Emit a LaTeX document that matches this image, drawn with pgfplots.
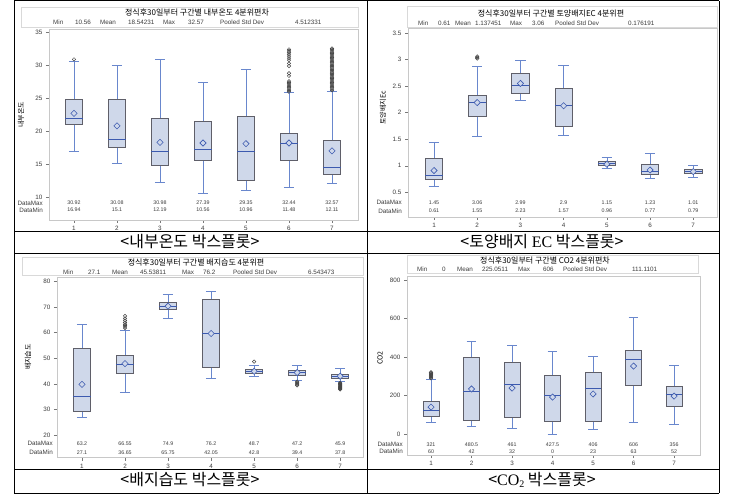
\documentclass[border=0pt]{standalone}
\usepackage{pgfplots}
\pgfplotsset{compat=1.18}
\usepackage{fontspec}
\setmainfont{Liberation Sans}
\newfontfamily\kr{Noto Sans CJK KR}
\newfontfamily\serif{Liberation Serif}

\definecolor{boxfill}{RGB}{207,216,234}
\definecolor{boxedge}{RGB}{95,95,105}
\definecolor{medc}{RGB}{60,90,175}
\definecolor{whc}{RGB}{105,135,205}
\definecolor{framec}{RGB}{200,200,200}
\definecolor{tickc}{RGB}{120,120,120}
\definecolor{txtc}{RGB}{60,60,60}
\definecolor{outc}{RGB}{70,70,70}

\pgfplotsset{
  sasaxis/.style={scale only axis, clip=false, anchor=south west,
    axis line style={draw=framec, line width=0.6pt},
    tick style={draw=tickc, line width=0.5pt}, major tick length=3pt,
    tick align=outside, tick pos=left, xtick={1,...,7},
    tick label style={font=\fontsize{6.3}{7}\selectfont, text=txtc},
    /pgf/number format/assume math mode=true},
  sasmean/.style={only marks, mark=square*, mark size=2.2pt,
    mark options={rotate=45, draw=medc, fill=boxfill, line width=0.6pt}},
  mwhisk/.style={draw=whc, line width=0.6pt, mark=none, unbounded coords=jump},
  mboxr/.style={draw=boxedge, fill=boxfill, line width=0.7pt, mark=none},
  mmed/.style={draw=medc, line width=0.7pt, mark=none, unbounded coords=jump},
  mout/.style={only marks, mark=o, mark size=1.7pt, mark options={draw=outc, line width=0.5pt}}
}
\tikzset{dmv/.style={font=\fontsize{5.3}{6}\selectfont, text=txtc, inner sep=0pt},
  dml/.style={font=\fontsize{6.3}{7}\selectfont, text=txtc, inner sep=0pt, anchor=east},
  sttxt/.style={font=\fontsize{6.3}{7}\selectfont, text=txtc, inner sep=0pt, anchor=west},
  ttltxt/.style={font=\kr\fontsize{8}{9}\selectfont, inner sep=0pt},
  yltxt/.style={font=\kr\fontsize{7}{8}\selectfont, inner sep=0pt, rotate=90},
  captxt/.style={font=\kr\fontsize{16}{17}\selectfont, inner sep=0pt}}
\newcommand{\dm}[5]{\node[dmv] at (axis cs:#1,#2) {#4}; \node[dmv] at (axis cs:#1,#3) {#5};}

\begin{document}
\begin{tikzpicture}
\path[use as bounding box] (0,0) rectangle (750pt,496pt);
\fill[white] (0,0) rectangle (750pt,496pt);

% ---------- header boxes ----------
\draw[gray!30, line width=0.5pt] (21pt,489pt) rectangle (358pt,469pt);
\draw[gray!30, line width=0.5pt] (407pt,490pt) rectangle (717pt,469pt);
\draw[gray!30, line width=0.5pt] (22pt,239pt) rectangle (363pt,221pt);
\draw[gray!30, line width=0.5pt] (407pt,241pt) rectangle (698pt,223pt);

% ---------- titles ----------
\node[ttltxt] at (197pt,483.5pt) {정식후30일부터 구간별 내부온도 4분위편차};
\node[ttltxt] at (551pt,483pt) {정식후30일부터 구간별 토양배지EC 4분위편};
\node[ttltxt] at (196pt,234pt) {정식후30일부터 구간별 배지습도 4분위편};
\node[ttltxt] at (545pt,236pt) {정식후30일부터 구간별 CO2 4분위편차};

% ---------- stats lines ----------
\node[sttxt] at (53pt,474pt) {Min}; \node[sttxt] at (75pt,474pt) {10.56};
\node[sttxt] at (100pt,474pt) {Mean}; \node[sttxt] at (128pt,474pt) {18.54231};
\node[sttxt] at (163pt,474pt) {Max}; \node[sttxt] at (188pt,474pt) {32.57};
\node[sttxt] at (220pt,474pt) {Pooled Std Dev}; \node[sttxt] at (295pt,474pt) {4.512331};

\node[sttxt] at (418pt,473pt) {Min}; \node[sttxt] at (438pt,473pt) {0.61};
\node[sttxt] at (455pt,473pt) {Mean}; \node[sttxt] at (475pt,473pt) {1.137451};
\node[sttxt] at (510pt,473pt) {Max}; \node[sttxt] at (532pt,473pt) {3.06};
\node[sttxt] at (555pt,473pt) {Pooled Std Dev}; \node[sttxt] at (628pt,473pt) {0.176191};

\node[sttxt] at (63pt,224pt) {Min}; \node[sttxt] at (88pt,224pt) {27.1};
\node[sttxt] at (112pt,224pt) {Mean}; \node[sttxt] at (140pt,224pt) {45.53811};
\node[sttxt] at (182pt,224pt) {Max}; \node[sttxt] at (203pt,224pt) {76.2};
\node[sttxt] at (233pt,224pt) {Pooled Std Dev}; \node[sttxt] at (308pt,224pt) {6.543473};

\node[sttxt] at (417pt,226.5pt) {Min}; \node[sttxt] at (442pt,226.5pt) {0};
\node[sttxt] at (457pt,226.5pt) {Mean}; \node[sttxt] at (482pt,226.5pt) {225.0511};
\node[sttxt] at (518pt,226.5pt) {Max}; \node[sttxt] at (543pt,226.5pt) {606};
\node[sttxt] at (563pt,226.5pt) {Pooled Std Dev}; \node[sttxt] at (632pt,226.5pt) {111.1101};

% ---------- y labels ----------
\node[yltxt] at (21pt,381pt) {내부온도};
\node[yltxt] at (383pt,388pt) {토양배지Ec};
\node[yltxt] at (28pt,139pt) {배지습도};
\node[yltxt] at (380pt,138pt) {CO2};

% ================= top-left: 내부온도 =================
\begin{axis}[sasaxis, at={(49pt,276pt)}, width=309pt, height=191pt,
  xmin=0.419, xmax=7.605, ymin=6.5, ymax=35.53, ytick={10,15,...,35}]
\addplot[mwhisk] coordinates {
 (1,16.94) (1,21.0) (1,nan) (1,24.9) (1,30.66) (1,nan) (0.88,16.94) (1.12,16.94) (1,nan) (0.88,30.66) (1.12,30.66) (1,nan)
 (2,15.1) (2,17.55) (2,nan) (2,24.9) (2,30.08) (2,nan) (1.88,15.1) (2.12,15.1) (2,nan) (1.88,30.08) (2.12,30.08) (2,nan)
 (3,12.19) (3,14.8) (3,nan) (3,22.0) (3,30.98) (3,nan) (2.88,12.19) (3.12,12.19) (3,nan) (2.88,30.98) (3.12,30.98) (3,nan)
 (4,10.56) (4,15.5) (4,nan) (4,21.5) (4,27.39) (4,nan) (3.88,10.56) (4.12,10.56) (4,nan) (3.88,27.39) (4.12,27.39) (4,nan)
 (5,10.96) (5,12.5) (5,nan) (5,22.2) (5,29.35) (5,nan) (4.88,10.96) (5.12,10.96) (5,nan) (4.88,29.35) (5.12,29.35) (5,nan)
 (6,11.48) (6,15.5) (6,nan) (6,19.7) (6,25.85) (6,nan) (5.88,11.48) (6.12,11.48) (6,nan) (5.88,25.85) (6.12,25.85) (6,nan)
 (7,12.11) (7,13.5) (7,nan) (7,18.6) (7,26.0) (7,nan) (6.88,12.11) (7.12,12.11) (7,nan) (6.88,26.0) (7.12,26.0)
};
\addplot[mboxr] coordinates {(0.8,21.0) (1.2,21.0) (1.2,24.9) (0.8,24.9)} --cycle;
\addplot[mboxr] coordinates {(1.8,17.55) (2.2,17.55) (2.2,24.9) (1.8,24.9)} --cycle;
\addplot[mboxr] coordinates {(2.8,14.8) (3.2,14.8) (3.2,22.0) (2.8,22.0)} --cycle;
\addplot[mboxr] coordinates {(3.8,15.5) (4.2,15.5) (4.2,21.5) (3.8,21.5)} --cycle;
\addplot[mboxr] coordinates {(4.8,12.5) (5.2,12.5) (5.2,22.2) (4.8,22.2)} --cycle;
\addplot[mboxr] coordinates {(5.8,15.5) (6.2,15.5) (6.2,19.7) (5.8,19.7)} --cycle;
\addplot[mboxr] coordinates {(6.8,13.5) (7.2,13.5) (7.2,18.6) (6.8,18.6)} --cycle;
\addplot[mmed] coordinates {
 (0.8,22.0) (1.2,22.0) (1,nan) (1.8,18.7) (2.2,18.7) (2,nan) (2.8,17.0) (3.2,17.0) (3,nan)
 (3.8,17.2) (4.2,17.2) (4,nan) (4.8,17.0) (5.2,17.0) (5,nan) (5.8,18.1) (6.2,18.1) (6,nan) (6.8,14.5) (7.2,14.5)
};
\addplot[mout] coordinates {(1,30.92)
 (6,26.0) (6,26.2) (6,26.4) (6,26.6) (6,26.8) (6,27.0) (6,27.2) (6,27.4) (6,27.6) (6,28.4) (6,28.8) (6,29.9) (6,30.3) (6,30.8) (6,31.1) (6,31.4) (6,31.7) (6,32.0) (6,32.2) (6,32.44)
 (7,26.2) (7,26.4) (7,26.6) (7,26.8) (7,27.0) (7,27.2) (7,27.4) (7,27.6) (7,27.8) (7,28.0) (7,28.2) (7,28.4) (7,28.6) (7,28.8) (7,29.0) (7,29.2) (7,29.4) (7,29.6) (7,29.8) (7,30.0) (7,30.2) (7,30.4) (7,30.6) (7,30.8) (7,31.0) (7,31.2) (7,31.4) (7,31.6) (7,31.8) (7,32.0) (7,32.2) (7,32.4) (7,32.57)};
\addplot[sasmean] coordinates {(1,22.7) (2,20.8) (3,18.3) (4,18.2) (5,18.1) (6,18.2) (7,17.0)};
\node[dml] at (axis cs:0.419,9.09) [xshift=-6pt] {DataMax};
\node[dml] at (axis cs:0.419,8.02) [xshift=-6pt] {DataMin};
\dm{1}{9.09}{8.02}{30.92}{16.94}
\dm{2}{9.09}{8.02}{30.08}{15.1}
\dm{3}{9.09}{8.02}{30.98}{12.19}
\dm{4}{9.09}{8.02}{27.39}{10.56}
\dm{5}{9.09}{8.02}{29.35}{10.96}
\dm{6}{9.09}{8.02}{32.44}{11.48}
\dm{7}{9.09}{8.02}{32.57}{12.11}
\end{axis}

% ================= top-right: 토양배지 EC =================
\begin{axis}[sasaxis, at={(408pt,279pt)}, width=309pt, height=189pt,
  xmin=0.398, xmax=7.55, ymin=0.035, ymax=3.594, ytick={0.5,1,...,3.5}]
\addplot[mwhisk] coordinates {
 (1,0.61) (1,0.74) (1,nan) (1,1.14) (1,1.45) (1,nan) (0.88,0.61) (1.12,0.61) (1,nan) (0.88,1.45) (1.12,1.45) (1,nan)
 (2,1.55) (2,1.93) (2,nan) (2,2.33) (2,2.88) (2,nan) (1.88,1.55) (2.12,1.55) (2,nan) (1.88,2.88) (2.12,2.88) (2,nan)
 (3,2.23) (3,2.36) (3,nan) (3,2.74) (3,2.99) (3,nan) (2.88,2.23) (3.12,2.23) (3,nan) (2.88,2.99) (3.12,2.99) (3,nan)
 (4,1.57) (4,1.75) (4,nan) (4,2.46) (4,2.9) (4,nan) (3.88,1.57) (4.12,1.57) (4,nan) (3.88,2.9) (4.12,2.9) (4,nan)
 (5,0.96) (5,1.0) (5,nan) (5,1.075) (5,1.15) (5,nan) (4.88,0.96) (5.12,0.96) (5,nan) (4.88,1.15) (5.12,1.15) (5,nan)
 (6,0.77) (6,0.84) (6,nan) (6,1.02) (6,1.23) (6,nan) (5.88,0.77) (6.12,0.77) (6,nan) (5.88,1.23) (6.12,1.23) (6,nan)
 (7,0.79) (7,0.86) (7,nan) (7,0.925) (7,1.01) (7,nan) (6.88,0.79) (7.12,0.79) (7,nan) (6.88,1.01) (7.12,1.01)
};
\addplot[mboxr] coordinates {(0.8,0.74) (1.2,0.74) (1.2,1.14) (0.8,1.14)} --cycle;
\addplot[mboxr] coordinates {(1.8,1.93) (2.2,1.93) (2.2,2.33) (1.8,2.33)} --cycle;
\addplot[mboxr] coordinates {(2.8,2.36) (3.2,2.36) (3.2,2.74) (2.8,2.74)} --cycle;
\addplot[mboxr] coordinates {(3.8,1.75) (4.2,1.75) (4.2,2.46) (3.8,2.46)} --cycle;
\addplot[mboxr] coordinates {(4.8,1.0) (5.2,1.0) (5.2,1.075) (4.8,1.075)} --cycle;
\addplot[mboxr] coordinates {(5.8,0.84) (6.2,0.84) (6.2,1.02) (5.8,1.02)} --cycle;
\addplot[mboxr] coordinates {(6.8,0.86) (7.2,0.86) (7.2,0.925) (6.8,0.925)} --cycle;
\addplot[mmed] coordinates {
 (0.8,0.82) (1.2,0.82) (1,nan) (1.8,2.19) (2.2,2.19) (2,nan) (2.8,2.51) (3.2,2.51) (3,nan)
 (3.8,2.13) (4.2,2.13) (4,nan) (4.8,1.04) (5.2,1.04) (5,nan) (5.8,0.89) (6.2,0.89) (6,nan) (6.8,0.89) (7.2,0.89)
};
\addplot[mout] coordinates {(2,3.02) (2,3.04) (2,3.06)};
\addplot[sasmean] coordinates {(1,0.91) (2,2.19) (3,2.55) (4,2.13) (5,1.03) (6,0.92) (7,0.89)};
\node[dml] at (axis cs:0.398,0.302) [xshift=-6pt] {DataMax};
\node[dml] at (axis cs:0.398,0.146) [xshift=-6pt] {DataMin};
\dm{1}{0.302}{0.146}{1.45}{0.61}
\dm{2}{0.302}{0.146}{3.06}{1.55}
\dm{3}{0.302}{0.146}{2.99}{2.23}
\dm{4}{0.302}{0.146}{2.9}{1.57}
\dm{5}{0.302}{0.146}{1.15}{0.96}
\dm{6}{0.302}{0.146}{1.23}{0.77}
\dm{7}{0.302}{0.146}{1.01}{0.79}
\end{axis}

% ================= bottom-left: 배지습도 =================
\begin{axis}[sasaxis, at={(57pt,38.3pt)}, width=306pt, height=180.7pt,
  xmin=0.419, xmax=7.53, ymin=11.1, ymax=81.8, ytick={20,30,...,80}]
\addplot[mwhisk] coordinates {
 (1,27.1) (1,29.1) (1,nan) (1,53.8) (1,63.2) (1,nan) (0.88,27.1) (1.12,27.1) (1,nan) (0.88,63.2) (1.12,63.2) (1,nan)
 (2,36.65) (2,44.2) (2,nan) (2,51.0) (2,61.0) (2,nan) (1.88,36.65) (2.12,36.65) (2,nan) (1.88,61.0) (2.12,61.0) (2,nan)
 (3,65.75) (3,69.1) (3,nan) (3,71.8) (3,74.9) (3,nan) (2.88,65.75) (3.12,65.75) (3,nan) (2.88,74.9) (3.12,74.9) (3,nan)
 (4,42.05) (4,46.6) (4,nan) (4,73.2) (4,76.2) (4,nan) (3.88,42.05) (4.12,42.05) (4,nan) (3.88,76.2) (4.12,76.2) (4,nan)
 (5,42.8) (5,44.1) (5,nan) (5,45.7) (5,47.4) (5,nan) (4.88,42.8) (5.12,42.8) (5,nan) (4.88,47.4) (5.12,47.4) (5,nan)
 (6,41.5) (6,43.5) (6,nan) (6,45.2) (6,47.2) (6,nan) (5.88,41.5) (6.12,41.5) (6,nan) (5.88,47.2) (6.12,47.2) (6,nan)
 (7,40.9) (7,42.0) (7,nan) (7,43.8) (7,45.9) (7,nan) (6.88,40.9) (7.12,40.9) (7,nan) (6.88,45.9) (7.12,45.9)
};
\addplot[mboxr] coordinates {(0.8,29.1) (1.2,29.1) (1.2,53.8) (0.8,53.8)} --cycle;
\addplot[mboxr] coordinates {(1.8,44.2) (2.2,44.2) (2.2,51.0) (1.8,51.0)} --cycle;
\addplot[mboxr] coordinates {(2.8,69.1) (3.2,69.1) (3.2,71.8) (2.8,71.8)} --cycle;
\addplot[mboxr] coordinates {(3.8,46.6) (4.2,46.6) (4.2,73.2) (3.8,73.2)} --cycle;
\addplot[mboxr] coordinates {(4.8,44.1) (5.2,44.1) (5.2,45.7) (4.8,45.7)} --cycle;
\addplot[mboxr] coordinates {(5.8,43.5) (6.2,43.5) (6.2,45.2) (5.8,45.2)} --cycle;
\addplot[mboxr] coordinates {(6.8,42.0) (7.2,42.0) (7.2,43.8) (6.8,43.8)} --cycle;
\addplot[mmed] coordinates {
 (0.8,35.1) (1.2,35.1) (1,nan) (1.8,47.7) (2.2,47.7) (2,nan) (2.8,70.5) (3.2,70.5) (3,nan)
 (3.8,59.7) (4.2,59.7) (4,nan) (4.8,44.9) (5.2,44.9) (5,nan) (5.8,44.4) (6.2,44.4) (6,nan) (6.8,43.0) (7.2,43.0)
};
\addplot[mout] coordinates {(2,61.8) (2,62.3) (2,62.8) (2,63.3) (2,64.0) (2,64.8) (2,65.6) (2,66.55)
 (5,48.7)
 (6,40.9) (6,40.5) (6,40.1) (6,39.7) (6,39.4)
 (7,40.4) (7,40.2) (7,40.0) (7,39.8) (7,39.6) (7,39.4) (7,39.2) (7,39.0) (7,38.8) (7,38.6) (7,38.4) (7,38.2) (7,38.0) (7,37.8)};
\addplot[sasmean] coordinates {(1,39.8) (2,47.9) (3,70.4) (4,59.7) (5,44.9) (6,44.4) (7,43.0)};
\node[dml] at (axis cs:0.419,16.75) [xshift=-4pt] {DataMax};
\node[dml] at (axis cs:0.419,13.1) [xshift=-4pt] {DataMin};
\dm{1}{16.75}{13.1}{63.2}{27.1}
\dm{2}{16.75}{13.1}{66.55}{36.65}
\dm{3}{16.75}{13.1}{74.9}{65.75}
\dm{4}{16.75}{13.1}{76.2}{42.05}
\dm{5}{16.75}{13.1}{48.7}{42.8}
\dm{6}{16.75}{13.1}{47.2}{39.4}
\dm{7}{16.75}{13.1}{45.9}{37.8}
\end{axis}

% ================= bottom-right: CO2 =================
\begin{axis}[sasaxis, at={(407pt,41pt)}, width=293pt, height=179pt,
  xmin=0.407, xmax=7.64, ymin=-109, ymax=821, ytick={0,200,...,800}]
\addplot[mwhisk] coordinates {
 (1,60) (1,90) (1,nan) (1,168) (1,285) (1,nan) (0.88,60) (1.12,60) (1,nan) (0.88,285) (1.12,285) (1,nan)
 (2,42) (2,73) (2,nan) (2,398) (2,480.5) (2,nan) (1.88,42) (2.12,42) (2,nan) (1.88,480.5) (2.12,480.5) (2,nan)
 (3,32) (3,85) (3,nan) (3,370) (3,461) (3,nan) (2.88,32) (3.12,32) (3,nan) (2.88,461) (3.12,461) (3,nan)
 (4,0) (4,64) (4,nan) (4,303) (4,427.5) (4,nan) (3.88,0) (4.12,0) (4,nan) (3.88,427.5) (4.12,427.5) (4,nan)
 (5,23) (5,66) (5,nan) (5,318) (5,406) (5,nan) (4.88,23) (5.12,23) (5,nan) (4.88,406) (5.12,406) (5,nan)
 (6,63) (6,253) (6,nan) (6,433) (6,606) (6,nan) (5.88,63) (6.12,63) (6,nan) (5.88,606) (6.12,606) (6,nan)
 (7,52) (7,145) (7,nan) (7,246) (7,356) (7,nan) (6.88,52) (7.12,52) (7,nan) (6.88,356) (7.12,356)
};
\addplot[mboxr] coordinates {(0.8,90) (1.2,90) (1.2,168) (0.8,168)} --cycle;
\addplot[mboxr] coordinates {(1.8,73) (2.2,73) (2.2,398) (1.8,398)} --cycle;
\addplot[mboxr] coordinates {(2.8,85) (3.2,85) (3.2,370) (2.8,370)} --cycle;
\addplot[mboxr] coordinates {(3.8,64) (4.2,64) (4.2,303) (3.8,303)} --cycle;
\addplot[mboxr] coordinates {(4.8,66) (5.2,66) (5.2,318) (4.8,318)} --cycle;
\addplot[mboxr] coordinates {(5.8,253) (6.2,253) (6.2,433) (5.8,433)} --cycle;
\addplot[mboxr] coordinates {(6.8,145) (7.2,145) (7.2,246) (6.8,246)} --cycle;
\addplot[mmed] coordinates {
 (0.8,125) (1.2,125) (1,nan) (1.8,222) (2.2,222) (2,nan) (2.8,260) (3.2,260) (3,nan)
 (3.8,199) (4.2,199) (4,nan) (4.8,235) (5.2,235) (5,nan) (5.8,388) (6.2,388) (6,nan) (6.8,206) (7.2,206)
};
\addplot[mout] coordinates {(1,289) (1,293) (1,297) (1,301) (1,305) (1,309) (1,313) (1,317) (1,321)};
\addplot[sasmean] coordinates {(1,140) (2,234) (3,239) (4,192) (5,208) (6,353) (7,197)};
\node[dml] at (axis cs:0.407,-53.5) [xshift=-4pt] {DataMax};
\node[dml] at (axis cs:0.407,-92) [xshift=-4pt] {DataMin};
\dm{1}{-53.5}{-92}{321}{60}
\dm{2}{-53.5}{-92}{480.5}{42}
\dm{3}{-53.5}{-92}{461}{32}
\dm{4}{-53.5}{-92}{427.5}{0}
\dm{5}{-53.5}{-92}{406}{23}
\dm{6}{-53.5}{-92}{606}{63}
\dm{7}{-53.5}{-92}{356}{52}
\end{axis}

% ---------- captions ----------
\node[captxt] at (190pt,254pt) {<내부온도 박스플롯>};
\node[captxt] at (542pt,254pt) {<토양배지 {\serif EC} 박스플롯>};
\node[captxt] at (190pt,16.5pt) {<배지습도 박스플롯>};
\node[captxt] at (542pt,16pt) {<{\serif CO\raisebox{-0.35ex}{\fontsize{10}{10}\selectfont 2}} 박스플롯>};

% ---------- table lines ----------
\draw[black, line width=1pt] (14pt,495pt) -- (719pt,495pt);
\draw[black, line width=1pt] (14pt,264pt) -- (719pt,264pt);
\draw[black, line width=1pt] (14pt,242pt) -- (719pt,242pt);
\draw[black, line width=1pt] (14pt,27pt) -- (719pt,27pt);
\draw[black, line width=1pt] (14pt,3pt) -- (719pt,3pt);
\draw[black, line width=1pt] (14pt,495pt) -- (14pt,3pt);
\draw[black, line width=1pt] (367pt,495pt) -- (367pt,3pt);
\draw[black, line width=1pt] (719pt,495pt) -- (719pt,3pt);
\end{tikzpicture}
\end{document}
